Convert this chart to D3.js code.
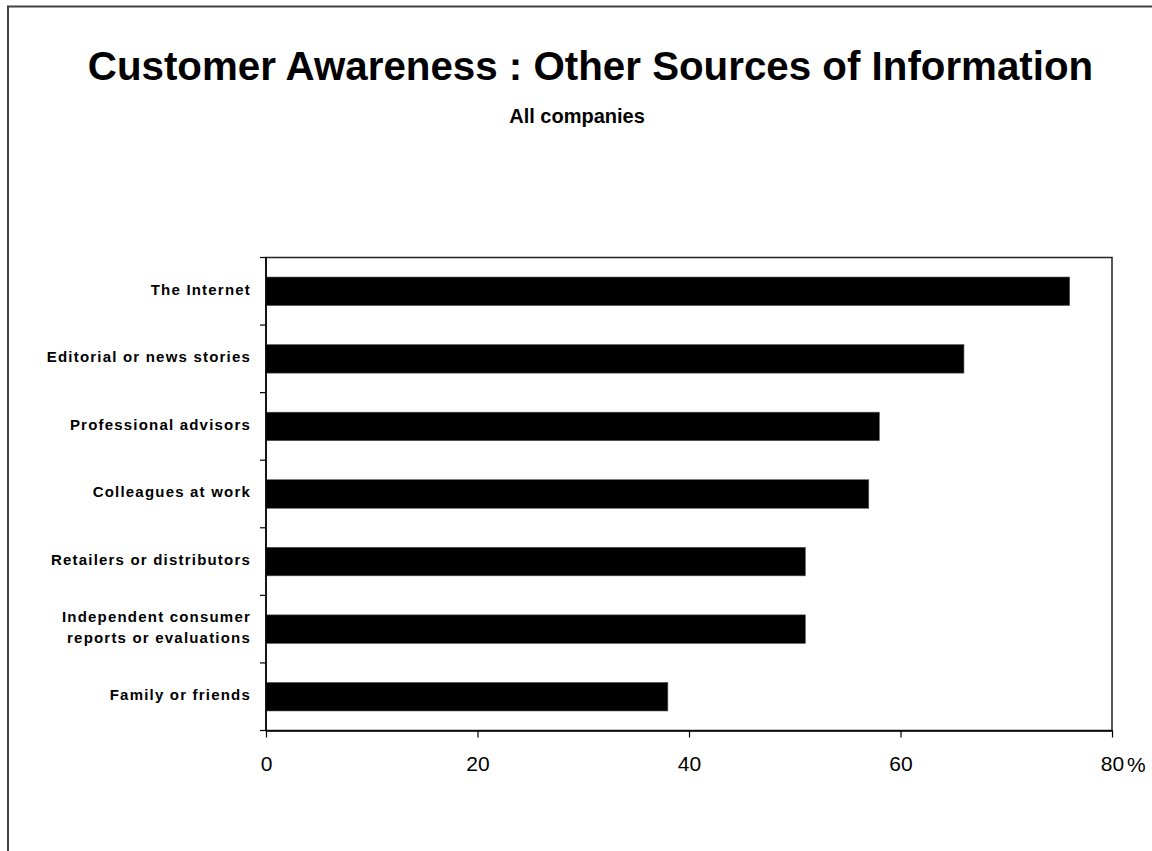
<!DOCTYPE html>
<html>
<head>
<meta charset="utf-8">
<script src="https://cdn.jsdelivr.net/npm/d3@7"></script>
<style>
  html, body { margin: 0; padding: 0; background: #fff; }
  svg { display: block; font-family: Arial, "Liberation Sans", sans-serif; }
</style>
</head>
<body>
<svg id="chart" width="1152" height="851"></svg>
<script>
// Share of respondents citing each source (%)
const categories = [
  "The Internet",
  "Editorial or news stories",
  "Professional advisors",
  "Colleagues at work",
  "Retailers or distributors",
  "Independent consumer\nreports or evaluations",
  "Family or friends"
];
const values = [76, 66, 58, 57, 51, 51, 38];
const xTicks = [0, 20, 40, 60, 80];

const titleText = "Customer Awareness : Other Sources of Information";
const subtitleText = "All companies";

const svg = d3.select("#chart");

// Outer chart frame (runs past the right and bottom edges)
svg.append("rect")
  .attr("x", 8).attr("y", 6.5)
  .attr("width", 1200).attr("height", 900)
  .attr("fill", "#fff")
  .attr("stroke", "#404040")
  .attr("stroke-width", 2);

// Titles
svg.append("text")
  .attr("x", 590.5).attr("y", 80)
  .attr("text-anchor", "middle")
  .attr("font-size", 40.3).attr("font-weight", "bold")
  .text(titleText);

svg.append("text")
  .attr("x", 577).attr("y", 123)
  .attr("text-anchor", "middle")
  .attr("font-size", 20).attr("font-weight", "bold")
  .text(subtitleText);

// Plot area
const plot = { left: 266, right: 1112, top: 257.5, bottom: 730.5 };

const x = d3.scaleLinear().domain([0, 80]).range([plot.left, plot.right]);
const y = d3.scaleBand()
  .domain(categories)
  .range([plot.top, plot.bottom])
  .paddingInner(0.578)
  .paddingOuter(0.289);

// Plot area border (top and right edges)
svg.append("rect")
  .attr("x", plot.left).attr("y", plot.top)
  .attr("width", plot.right - plot.left)
  .attr("height", plot.bottom - plot.top)
  .attr("fill", "none")
  .attr("stroke", "#222")
  .attr("stroke-width", 1.5);

// Bars
svg.append("g").selectAll("rect")
  .data(categories)
  .join("rect")
  .attr("x", x(0))
  .attr("y", d => y(d))
  .attr("width", (d, i) => x(values[i]) - x(0))
  .attr("height", y.bandwidth())
  .attr("fill", "#000")
  .attr("stroke", "#555")
  .attr("stroke-width", 0.6);

// X axis
const xAxis = svg.append("g")
  .attr("transform", `translate(0,${plot.bottom})`)
  .call(d3.axisBottom(x).tickValues(xTicks).tickSize(7).tickSizeOuter(0).tickPadding(19));
xAxis.select(".domain").attr("stroke", "#000").attr("stroke-width", 1.5);
xAxis.selectAll(".tick line").attr("stroke", "#000").attr("stroke-width", 1.2);
xAxis.selectAll(".tick text")
  .attr("font-size", 21)
  .attr("font-family", "Arial, 'Liberation Sans', sans-serif")
  .attr("fill", "#000");

// Percent unit after the last tick label
svg.append("text")
  .attr("x", 1127).attr("y", 772)
  .attr("font-size", 21)
  .text("%");

// Y axis: line plus ticks at category boundaries
const yAxisG = svg.append("g");
yAxisG.append("line")
  .attr("x1", plot.left).attr("x2", plot.left)
  .attr("y1", plot.top).attr("y2", plot.bottom)
  .attr("stroke", "#000").attr("stroke-width", 1.5);

const step = y.step();
const boundaries = d3.range(categories.length + 1).map(i => plot.top + i * step);
yAxisG.selectAll("line.tick")
  .data(boundaries)
  .join("line")
  .attr("class", "tick")
  .attr("x1", plot.left - 6).attr("x2", plot.left)
  .attr("y1", d => d).attr("y2", d => d)
  .attr("stroke", "#000").attr("stroke-width", 1.2);

// Category labels
const labels = yAxisG.selectAll("text.cat")
  .data(categories)
  .join("text")
  .attr("class", "cat")
  .attr("text-anchor", "end")
  .attr("font-size", 15)
  .attr("font-weight", "bold")
  .attr("letter-spacing", 1.2)
  .attr("fill", "#000");

labels.each(function(d) {
  const lines = d.split("\n");
  const cy = y(d) + y.bandwidth() / 2;
  const lh = 21.5;
  const t = d3.select(this);
  lines.forEach((ln, j) => {
    t.append("tspan")
      .attr("x", 251)
      .attr("y", cy + 3.4 + (j - (lines.length - 1) / 2) * lh)
      .text(ln);
  });
});
</script>
</body>
</html>
